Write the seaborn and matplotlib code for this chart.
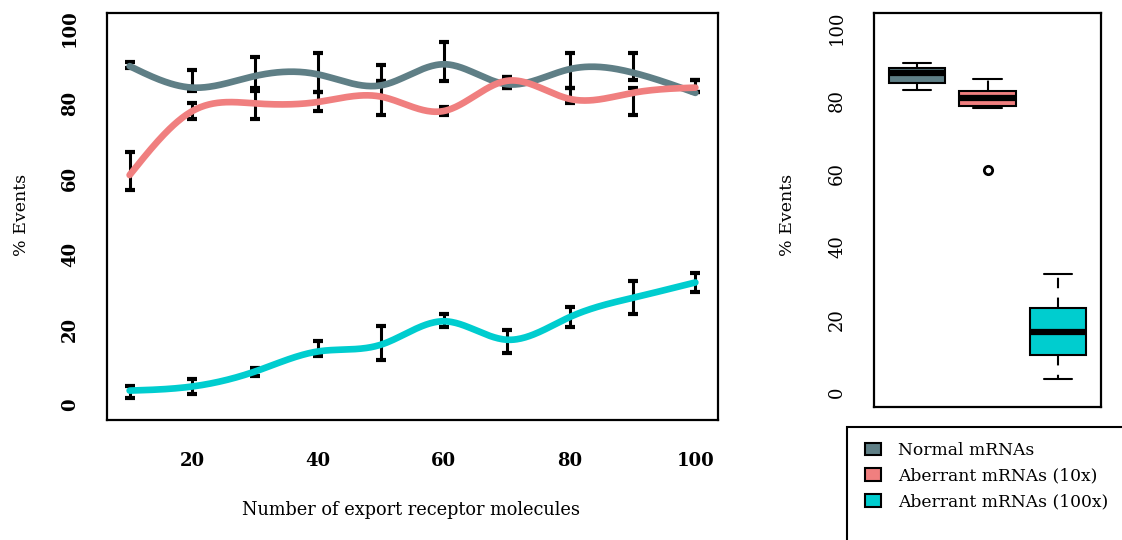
import numpy as np
import pandas as pd
import matplotlib
matplotlib.use("Agg")
import matplotlib.pyplot as plt
from matplotlib.patches import Patch, Rectangle
import seaborn as sns

# ---------------- data ----------------
receptors = [10, 20, 30, 40, 50, 60, 70, 80, 90, 100]

normal_mean = [89.9, 84.2, 87.3, 87.7, 84.8, 90.4, 85.1, 89.1, 88.2, 82.8]
normal_lo = [89.5, 83.3, 84.0, 83.0, 86.0, 86.0, 84.0, 84.0, 86.2, 83.0]
normal_hi = [91.0, 89.0, 92.2, 93.3, 90.1, 96.2, 87.0, 93.3, 93.3, 86.2]

ab10_mean = [61.0, 78.0, 80.0, 80.4, 81.8, 78.0, 86.0, 81.2, 82.8, 84.2]
ab10_lo = [57.0, 76.0, 76.0, 78.0, 77.0, 77.0, 84.0, 80.0, 77.0, 83.0]
ab10_hi = [67.0, 80.2, 83.3, 83.0, 86.0, 79.0, 87.0, 84.0, 84.2, 86.2]

ab100_mean = [3.8, 4.9, 8.9, 14.2, 16.0, 22.2, 17.3, 23.3, 28.4, 32.5]
ab100_lo = [1.8, 2.9, 7.8, 12.9, 12.0, 20.7, 13.9, 20.8, 24.0, 30.0]
ab100_hi = [4.9, 6.9, 9.9, 17.0, 21.0, 24.0, 20.0, 26.0, 33.0, 35.0]

series_names = ["Normal mRNAs", "Aberrant mRNAs (10x)", "Aberrant mRNAs (100x)"]
series_colors = ["#5F7F86", "#F07F7F", "#00CDCF"]

x_ticks = [20, 40, 60, 80, 100]
y_ticks = [0, 20, 40, 60, 80, 100]

# ---------------- helpers ----------------
def natural_spline(x, y, xs):
    x = np.asarray(x, float)
    y = np.asarray(y, float)
    n = len(x)
    h = np.diff(x)
    A = np.zeros((n, n))
    b = np.zeros(n)
    A[0, 0] = 1.0
    A[-1, -1] = 1.0
    for i in range(1, n - 1):
        A[i, i - 1] = h[i - 1]
        A[i, i] = 2 * (h[i - 1] + h[i])
        A[i, i + 1] = h[i]
        b[i] = 6 * ((y[i + 1] - y[i]) / h[i] - (y[i] - y[i - 1]) / h[i - 1])
    M = np.linalg.solve(A, b)
    idx = np.clip(np.searchsorted(x, xs) - 1, 0, n - 2)
    x0, x1 = x[idx], x[idx + 1]
    hh = x1 - x0
    t0 = x1 - xs
    t1 = xs - x0
    return (M[idx] * t0 ** 3 / (6 * hh) + M[idx + 1] * t1 ** 3 / (6 * hh)
            + (y[idx] / hh - M[idx] * hh / 6) * t0
            + (y[idx + 1] / hh - M[idx + 1] * hh / 6) * t1)

# ---------------- style ----------------
sns.set_style("white")
plt.rcParams["font.family"] = ["DejaVu Serif"]
plt.rcParams["axes.linewidth"] = 1.5
plt.rcParams["text.color"] = "black"

W, H = 1122, 540
fig = plt.figure(figsize=(W / 100, H / 100), dpi=100)

def fx(px):
    return px / W

def fy(py):
    return 1 - py / H

# left panel
axL = fig.add_axes([fx(107), fy(420), fx(718) - fx(107), fy(13) - fy(420)])
# right panel
axR = fig.add_axes([fx(874), fy(407), fx(1101) - fx(874), fy(13) - fy(407)])

means = [normal_mean, ab10_mean, ab100_mean]
los = [normal_lo, ab10_lo, ab100_lo]
his = [normal_hi, ab10_hi, ab100_hi]

xs = np.linspace(receptors[0], receptors[-1], 400)
xr = np.asarray(receptors, float)
for lo, hi in zip(los, his):
    lo = np.asarray(lo, float)
    hi = np.asarray(hi, float)
    mid = (lo + hi) / 2
    axL.errorbar(xr, mid, yerr=(hi - lo) / 2, fmt="none", ecolor="black",
                 elinewidth=2.2, capsize=3.8, capthick=3.0, zorder=2)

for m, c in zip(means, series_colors):
    ys = natural_spline(receptors, m, xs)
    sns.lineplot(x=xs, y=ys, ax=axL, color=c, linewidth=4.8, sort=False,
                 zorder=3, solid_capstyle="round")

axL.set_xlim(6.4, 103.6)
axL.set_ylim(-4, 104)
axL.set_xticks(x_ticks)
axL.set_yticks(y_ticks)
axL.set_xticklabels([str(v) for v in x_ticks], fontweight="bold", fontsize=13)
axL.set_yticklabels([str(v) for v in y_ticks], fontweight="bold", fontsize=13,
                    rotation=90, va="center")
axL.tick_params(axis="both", direction="out", length=9, width=1.2, colors="black")
axL.tick_params(axis="x", pad=14)
axL.tick_params(axis="y", pad=11)
axL.set_xlabel("")
axL.set_ylabel("")
for s in axL.spines.values():
    s.set_color("black")
    s.set_linewidth(1.6)

fig.text(fx(411), fy(510), "Number of export receptor molecules", ha="center",
         va="center", fontsize=12.8)
fig.text(fx(22), fy(215), "% Events", ha="center", va="center", rotation=90,
         fontsize=12.5)

# ---------------- box plot ----------------
box_df = pd.DataFrame({
    "group": np.repeat(series_names, len(receptors)),
    "value": np.concatenate([normal_mean, ab10_mean, ab100_mean]),
})
sns.boxplot(data=box_df, x="group", y="value", hue="group", order=series_names,
            hue_order=series_names, palette=series_colors, saturation=1,
            legend=False, width=0.8, linecolor="black", linewidth=1.5, ax=axR,
            medianprops=dict(linewidth=4.5, color="black"),
            whiskerprops=dict(linestyle=(0, (5, 4.5)), linewidth=1.5, color="black"),
            capprops=dict(linewidth=1.5, color="black"),
            flierprops=dict(marker="o", markersize=6, markerfacecolor="none",
                            markeredgecolor="black", markeredgewidth=2.0))
axR.set_xlim(-0.62, 2.62)
axR.set_ylim(-4, 104)
axR.set_xticks([])
axR.set_yticks(y_ticks)
axR.set_yticklabels([str(v) for v in y_ticks], fontsize=13, rotation=90, va="center")
axR.tick_params(axis="y", direction="out", length=9, width=1.2, pad=11, colors="black")
axR.set_xlabel("")
axR.set_ylabel("")
for s in axR.spines.values():
    s.set_color("black")
    s.set_linewidth(1.6)
fig.text(fx(787), fy(215), "% Events", ha="center", va="center", rotation=90,
         fontsize=12.5)

# ---------------- legend ----------------
fig.add_artist(Rectangle((fx(847), -0.05), 0.4, fy(427) + 0.05,
                         transform=fig.transFigure, fill=False,
                         edgecolor="black", linewidth=1.5, clip_on=False))
handles = [Patch(facecolor=c, edgecolor="black", linewidth=1.5) for c in series_colors]
fig.legend(handles, series_names, loc="upper left",
           bbox_to_anchor=(fx(865), fy(442)), frameon=False, fontsize=12.3,
           handlelength=0.95, handleheight=0.78, handletextpad=1.0,
           labelspacing=0.5, borderpad=0, borderaxespad=0)

fig.savefig("out.png", dpi=100)
